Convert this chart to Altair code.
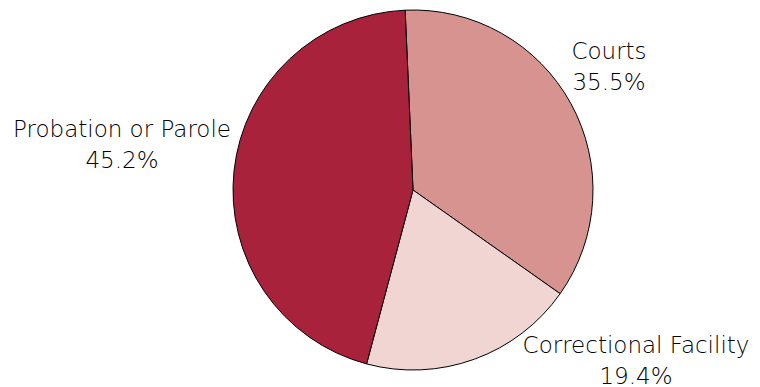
import altair as alt
import pandas as pd
import math

categories = ["Courts", "Correctional Facility", "Probation or Parole"]
values = [35.5, 19.4, 45.2]
colors = ["#D6938F", "#F0D5D3", "#A8223B"]

df = pd.DataFrame({
    "category": categories,
    "value": values,
    "order": list(range(len(categories))),
})
df["label"] = [f"{c}\n{v:.1f}%" for c, v in zip(categories, values)]

start = -0.0436
cx, cy, r = 413, 190, 180

pie = alt.Chart(df).mark_arc(radius=r, stroke="black", strokeWidth=1).encode(
    theta=alt.Theta("value:Q", stack=True, scale=alt.Scale(range=[start, start + 2 * math.pi])),
    color=alt.Color("category:N", scale=alt.Scale(domain=categories, range=colors), legend=None),
    order=alt.Order("order:Q"),
    x=alt.value(cx),
    y=alt.value(cy),
)

label_pos = {
    "Courts": (609, 59),
    "Correctional Facility": (636, 353),
    "Probation or Parole": (122, 137),
}

layers = [pie]
for cat, (lx, ly) in label_pos.items():
    layers.append(
        alt.Chart(df).transform_filter(alt.datum.category == cat).mark_text(
            font="DejaVu Sans", fontSize=23, fontWeight=300, lineBreak="\n", lineHeight=31,
            align="center", baseline="alphabetic", color="black",
        ).encode(text="label:N", x=alt.value(lx), y=alt.value(ly))
    )

chart = alt.layer(*layers).properties(
    width=760, height=387, padding=0, autosize=alt.AutoSizeParams(type="none")
).configure_view(stroke=None)

chart.save("out.html", embed_options={"renderer": "svg", "actions": False})
